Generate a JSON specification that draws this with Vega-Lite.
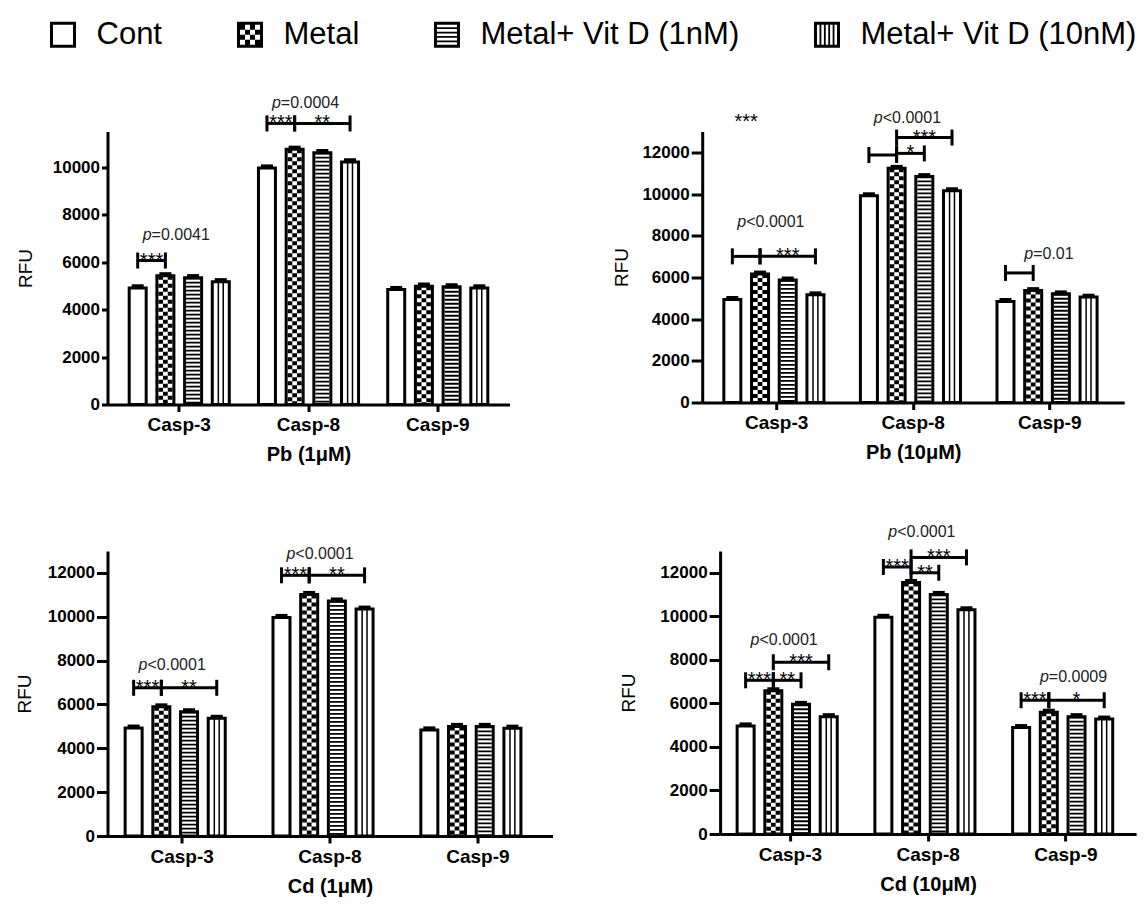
{
"$schema": "https://vega.github.io/schema/vega-lite/v6.json",
"padding": {"left": 14.5, "top": 16, "right": 2, "bottom": 2},
"background": "white",
"datasets": {"d": [
{"pn":"P1","t":"bar","casp":"Casp-3","k":"Cont","y":4910,"hi":4990},
{"pn":"P1","t":"bar","casp":"Casp-3","k":"Metal","y":5420,"hi":5500},
{"pn":"P1","t":"bar","casp":"Casp-3","k":"1nM","y":5340,"hi":5420},
{"pn":"P1","t":"bar","casp":"Casp-3","k":"10nM","y":5170,"hi":5250},
{"pn":"P1","t":"bar","casp":"Casp-8","k":"Cont","y":9960,"hi":10040},
{"pn":"P1","t":"bar","casp":"Casp-8","k":"Metal","y":10750,"hi":10830},
{"pn":"P1","t":"bar","casp":"Casp-8","k":"1nM","y":10610,"hi":10690},
{"pn":"P1","t":"bar","casp":"Casp-8","k":"10nM","y":10220,"hi":10300},
{"pn":"P1","t":"bar","casp":"Casp-9","k":"Cont","y":4840,"hi":4920},
{"pn":"P1","t":"bar","casp":"Casp-9","k":"Metal","y":4985,"hi":5065},
{"pn":"P1","t":"bar","casp":"Casp-9","k":"1nM","y":4955,"hi":5035},
{"pn":"P1","t":"bar","casp":"Casp-9","k":"10nM","y":4910,"hi":4990},
{"pn":"P1","t":"br","casp":"Casp-3","k":"Cont","y":6065,"bid":"1a"},
{"pn":"P1","t":"br","casp":"Casp-3","k":"Metal","y":6065,"bid":"1a"},
{"pn":"P1","t":"br","casp":"Casp-8","k":"Cont","y":11840,"bid":"1b"},
{"pn":"P1","t":"br","casp":"Casp-8","k":"Metal","y":11840,"bid":"1b"},
{"pn":"P1","t":"br","casp":"Casp-8","k":"Metal","y":11840,"bid":"1c"},
{"pn":"P1","t":"br","casp":"Casp-8","k":"10nM","y":11840,"bid":"1c"},
{"pn":"P1","t":"st","casp":"Casp-3","k":"s1","y":6065,"lab":"***"},
{"pn":"P1","t":"st","casp":"Casp-8","k":"s1","y":11840,"lab":"***"},
{"pn":"P1","t":"st","casp":"Casp-8","k":"1nM","y":11840,"lab":"**"},
{"pn":"P1","t":"p","casp":"Casp-3","k":"s1","y":7130,"lab":"=0.0041"},
{"pn":"P1","t":"p","casp":"Casp-8","k":"s1","y":12680,"lab":"=0.0004"},

{"pn":"P2","t":"bar","casp":"Casp-3","k":"Cont","y":4944,"hi":5024},
{"pn":"P2","t":"bar","casp":"Casp-3","k":"Metal","y":6165,"hi":6245},
{"pn":"P2","t":"bar","casp":"Casp-3","k":"1nM","y":5880,"hi":5960},
{"pn":"P2","t":"bar","casp":"Casp-3","k":"10nM","y":5167,"hi":5247},
{"pn":"P2","t":"bar","casp":"Casp-8","k":"Cont","y":9920,"hi":10000},
{"pn":"P2","t":"bar","casp":"Casp-8","k":"Metal","y":11235,"hi":11315},
{"pn":"P2","t":"bar","casp":"Casp-8","k":"1nM","y":10840,"hi":10920},
{"pn":"P2","t":"bar","casp":"Casp-8","k":"10nM","y":10160,"hi":10240},
{"pn":"P2","t":"bar","casp":"Casp-9","k":"Cont","y":4850,"hi":4930},
{"pn":"P2","t":"bar","casp":"Casp-9","k":"Metal","y":5370,"hi":5450},
{"pn":"P2","t":"bar","casp":"Casp-9","k":"1nM","y":5213,"hi":5293},
{"pn":"P2","t":"bar","casp":"Casp-9","k":"10nM","y":5055,"hi":5135},
{"pn":"P2","t":"br","casp":"Casp-3","k":"Cont","y":7010,"bid":"2a"},
{"pn":"P2","t":"br","casp":"Casp-3","k":"Metal","y":7010,"bid":"2a"},
{"pn":"P2","t":"br","casp":"Casp-3","k":"Metal","y":7010,"bid":"2b"},
{"pn":"P2","t":"br","casp":"Casp-3","k":"10nM","y":7010,"bid":"2b"},
{"pn":"P2","t":"br","casp":"Casp-8","k":"Cont","y":11873,"bid":"2c"},
{"pn":"P2","t":"br","casp":"Casp-8","k":"Metal","y":11873,"bid":"2c"},
{"pn":"P2","t":"br","casp":"Casp-8","k":"Metal","y":11950,"bid":"2d"},
{"pn":"P2","t":"br","casp":"Casp-8","k":"1nM","y":11950,"bid":"2d"},
{"pn":"P2","t":"br","casp":"Casp-8","k":"Metal","y":12710,"bid":"2e"},
{"pn":"P2","t":"br","casp":"Casp-8","k":"10nM","y":12710,"bid":"2e"},
{"pn":"P2","t":"br","casp":"Casp-9","k":"Cont","y":6215,"bid":"2f"},
{"pn":"P2","t":"br","casp":"Casp-9","k":"Metal","y":6215,"bid":"2f"},
{"pn":"P2","t":"st","casp":"Casp-3","k":"1nM","y":7010,"lab":"***"},
{"pn":"P2","t":"st","casp":"Casp-8","k":"s2","y":11950,"lab":"*"},
{"pn":"P2","t":"st","casp":"Casp-8","k":"1nM","y":12710,"lab":"***"},
{"pn":"P2","t":"st","casp":"Casp-3","k":"s1","y":13450,"lab":"***"},
{"pn":"P2","t":"p","casp":"Casp-3","k":"s1","y":8670,"lab":"<0.0001"},
{"pn":"P2","t":"p","casp":"Casp-8","k":"s1","y":13660,"lab":"<0.0001"},
{"pn":"P2","t":"p","casp":"Casp-9","k":"Metal","y":7120,"lab":"=0.01"},

{"pn":"P3","t":"bar","casp":"Casp-3","k":"Cont","y":4924,"hi":5004},
{"pn":"P3","t":"bar","casp":"Casp-3","k":"Metal","y":5891,"hi":5971},
{"pn":"P3","t":"bar","casp":"Casp-3","k":"1nM","y":5668,"hi":5748},
{"pn":"P3","t":"bar","casp":"Casp-3","k":"10nM","y":5370,"hi":5450},
{"pn":"P3","t":"bar","casp":"Casp-8","k":"Cont","y":9970,"hi":10050},
{"pn":"P3","t":"bar","casp":"Casp-8","k":"Metal","y":11020,"hi":11100},
{"pn":"P3","t":"bar","casp":"Casp-8","k":"1nM","y":10720,"hi":10800},
{"pn":"P3","t":"bar","casp":"Casp-8","k":"10nM","y":10350,"hi":10430},
{"pn":"P3","t":"bar","casp":"Casp-9","k":"Cont","y":4840,"hi":4920},
{"pn":"P3","t":"bar","casp":"Casp-9","k":"Metal","y":5000,"hi":5080},
{"pn":"P3","t":"bar","casp":"Casp-9","k":"1nM","y":5000,"hi":5080},
{"pn":"P3","t":"bar","casp":"Casp-9","k":"10nM","y":4920,"hi":5000},
{"pn":"P3","t":"br","casp":"Casp-3","k":"Cont","y":6760,"bid":"3a"},
{"pn":"P3","t":"br","casp":"Casp-3","k":"Metal","y":6760,"bid":"3a"},
{"pn":"P3","t":"br","casp":"Casp-3","k":"Metal","y":6760,"bid":"3b"},
{"pn":"P3","t":"br","casp":"Casp-3","k":"10nM","y":6760,"bid":"3b"},
{"pn":"P3","t":"br","casp":"Casp-8","k":"Cont","y":11890,"bid":"3c"},
{"pn":"P3","t":"br","casp":"Casp-8","k":"Metal","y":11890,"bid":"3c"},
{"pn":"P3","t":"br","casp":"Casp-8","k":"Metal","y":11890,"bid":"3d"},
{"pn":"P3","t":"br","casp":"Casp-8","k":"10nM","y":11890,"bid":"3d"},
{"pn":"P3","t":"st","casp":"Casp-3","k":"s1","y":6760,"lab":"***"},
{"pn":"P3","t":"st","casp":"Casp-3","k":"1nM","y":6760,"lab":"**"},
{"pn":"P3","t":"st","casp":"Casp-8","k":"s1","y":11890,"lab":"***"},
{"pn":"P3","t":"st","casp":"Casp-8","k":"1nM","y":11890,"lab":"**"},
{"pn":"P3","t":"p","casp":"Casp-3","k":"s1","y":7806,"lab":"<0.0001"},
{"pn":"P3","t":"p","casp":"Casp-8","k":"s1","y":12850,"lab":"<0.0001"},

{"pn":"P4","t":"bar","casp":"Casp-3","k":"Cont","y":4966,"hi":5046},
{"pn":"P4","t":"bar","casp":"Casp-3","k":"Metal","y":6580,"hi":6660},
{"pn":"P4","t":"bar","casp":"Casp-3","k":"1nM","y":5955,"hi":6035},
{"pn":"P4","t":"bar","casp":"Casp-3","k":"10nM","y":5390,"hi":5470},
{"pn":"P4","t":"bar","casp":"Casp-8","k":"Cont","y":9955,"hi":10035},
{"pn":"P4","t":"bar","casp":"Casp-8","k":"Metal","y":11555,"hi":11635},
{"pn":"P4","t":"bar","casp":"Casp-8","k":"1nM","y":11007,"hi":11087},
{"pn":"P4","t":"bar","casp":"Casp-8","k":"10nM","y":10300,"hi":10380},
{"pn":"P4","t":"bar","casp":"Casp-9","k":"Cont","y":4890,"hi":4970},
{"pn":"P4","t":"bar","casp":"Casp-9","k":"Metal","y":5595,"hi":5675},
{"pn":"P4","t":"bar","casp":"Casp-9","k":"1nM","y":5390,"hi":5470},
{"pn":"P4","t":"bar","casp":"Casp-9","k":"10nM","y":5280,"hi":5360},
{"pn":"P4","t":"br","casp":"Casp-3","k":"Cont","y":7060,"bid":"4a"},
{"pn":"P4","t":"br","casp":"Casp-3","k":"Metal","y":7060,"bid":"4a"},
{"pn":"P4","t":"br","casp":"Casp-3","k":"Metal","y":7060,"bid":"4b"},
{"pn":"P4","t":"br","casp":"Casp-3","k":"1nM","y":7060,"bid":"4b"},
{"pn":"P4","t":"br","casp":"Casp-3","k":"Metal","y":7890,"bid":"4c"},
{"pn":"P4","t":"br","casp":"Casp-3","k":"10nM","y":7890,"bid":"4c"},
{"pn":"P4","t":"br","casp":"Casp-8","k":"Cont","y":12265,"bid":"4d"},
{"pn":"P4","t":"br","casp":"Casp-8","k":"Metal","y":12265,"bid":"4d"},
{"pn":"P4","t":"br","casp":"Casp-8","k":"Metal","y":12000,"bid":"4e"},
{"pn":"P4","t":"br","casp":"Casp-8","k":"1nM","y":12000,"bid":"4e"},
{"pn":"P4","t":"br","casp":"Casp-8","k":"Metal","y":12706,"bid":"4f"},
{"pn":"P4","t":"br","casp":"Casp-8","k":"10nM","y":12706,"bid":"4f"},
{"pn":"P4","t":"br","casp":"Casp-9","k":"Cont","y":6145,"bid":"4g"},
{"pn":"P4","t":"br","casp":"Casp-9","k":"Metal","y":6145,"bid":"4g"},
{"pn":"P4","t":"br","casp":"Casp-9","k":"Metal","y":6145,"bid":"4h"},
{"pn":"P4","t":"br","casp":"Casp-9","k":"10nM","y":6145,"bid":"4h"},
{"pn":"P4","t":"st","casp":"Casp-3","k":"s1","y":7060,"lab":"***"},
{"pn":"P4","t":"st","casp":"Casp-3","k":"s2","y":7060,"lab":"**"},
{"pn":"P4","t":"st","casp":"Casp-3","k":"1nM","y":7890,"lab":"***"},
{"pn":"P4","t":"st","casp":"Casp-8","k":"s1","y":12265,"lab":"***"},
{"pn":"P4","t":"st","casp":"Casp-8","k":"s2","y":12000,"lab":"**"},
{"pn":"P4","t":"st","casp":"Casp-8","k":"1nM","y":12706,"lab":"***"},
{"pn":"P4","t":"st","casp":"Casp-9","k":"s1","y":6145,"lab":"***"},
{"pn":"P4","t":"st","casp":"Casp-9","k":"1nM","y":6145,"lab":"*"},
{"pn":"P4","t":"p","casp":"Casp-3","k":"s1","y":8910,"lab":"<0.0001"},
{"pn":"P4","t":"p","casp":"Casp-8","k":"s1","y":13880,"lab":"<0.0001"},
{"pn":"P4","t":"p","casp":"Casp-9","k":"Metal","y":7200,"lab":"=0.0009"}
]},
"resolve": {"scale": {"shape": "independent"}, "legend": {"shape": "independent"}},
"columns": 1,
"align": "none",
"spacing": 44.5,
"concat": [
{
 "width": 1, "height": 1,
 "data": {"values": [{"g":"Cont"},{"g":"Metal"},{"g":"Metal+ Vit D (1nM)"},{"g":"Metal+ Vit D (10nM)"}]},
 "mark": {"type":"point","filled":true,"color":"black","opacity":0},
 "encoding": {"shape": {"field":"g","type":"nominal",
   "scale":{"domain":["Cont","Metal","Metal+ Vit D (1nM)","Metal+ Vit D (10nM)"],
   "range":[
   "M-1,-1H1V1H-1Z M-0.77,-0.77V0.77H0.77V-0.77Z",
   "M-1,-1H1V1H-1Z M-0.77,-0.77V0.77H0.77V-0.77Z M-0.77,-0.77h0.385v0.385h-0.385Z M0,-0.77h0.385v0.385h-0.385Z M-0.385,-0.385h0.385v0.385h-0.385Z M0.385,-0.385h0.385v0.385h-0.385Z M-0.77,0h0.385v0.385h-0.385Z M0,0h0.385v0.385h-0.385Z M-0.385,0.385h0.385v0.385h-0.385Z M0.385,0.385h0.385v0.385h-0.385Z",
   "M-1,-1H1V1H-1Z M-0.77,-0.77V0.77H0.77V-0.77Z M-0.77,-0.574h1.54v0.14h-1.54Z M-0.77,-0.238h1.54v0.14h-1.54Z M-0.77,0.098h1.54v0.14h-1.54Z M-0.77,0.434h1.54v0.14h-1.54Z",
   "M-1,-1H1V1H-1Z M-0.77,-0.77V0.77H0.77V-0.77Z M-0.574,-0.77h0.14v1.54h-0.14Z M-0.238,-0.77h0.14v1.54h-0.14Z M0.098,-0.77h0.14v1.54h-0.14Z M0.434,-0.77h0.14v1.54h-0.14Z"
   ]},
   "legend":{"title":null,"orient":"right","offset":-61,"direction":"horizontal","columns":4,"columnPadding":72,"symbolSize":676,"symbolOpacity":1,"symbolStrokeWidth":0,"symbolFillColor":"black","labelFontSize":31,"labelFont":"Liberation Sans","labelColor":"black","labelOffset":18,"labelLimit":600,"padding":0,
     "encode":{"symbols":{"update":{"opacity":{"value":1},"fill":{"value":"black"},"strokeWidth":{"value":0}}}}}
 }}
},
{
 "columns": 1,
 "align": "none",
 "spacing": 58.5,
 "concat": [
 {"align": "none", "spacing": 102.7, "concat": [
  {
   "width": 402, "height": 273,
   "data": {"name": "d"},
   "transform": [{"filter": "datum.pn=='P1'"}],
   "encoding": {
    "x": {"field":"casp","type":"nominal","title":"Pb (1μM)","scale":{"paddingInner":0.25,"paddingOuter":0.18}},
    "xOffset": {"field":"k","type":"nominal","scale":{"domain":["Cont","s1","Metal","s2","1nM","s3","10nM"],"paddingInner":0,"paddingOuter":0}},
    "y": {"field":"y","type":"quantitative","title":"RFU","scale":{"domain":[0,11500],"nice":false},"axis":{"values":[0,2000,4000,6000,8000,10000],"format":"d","tickSize":6,"titlePadding":17}}
   },
   "layer": [
    {"transform":[{"filter":"datum.t=='bar'&&datum.k=='1nM'"}],"mark":{"type":"rule","strokeWidth":14,"strokeDash":[1.8,2.2],"color":"black","opacity":1},"encoding":{"y2":{"datum":0}}},
    {"transform":[{"filter":"datum.t=='bar'&&datum.k=='10nM'"}],"mark":{"type":"rule","strokeWidth":6.4,"color":"black","opacity":1},"encoding":{"y2":{"datum":0}}},
    {"transform":[{"filter":"datum.t=='bar'&&datum.k=='10nM'"}],"mark":{"type":"rule","strokeWidth":3.4,"color":"white","opacity":1},"encoding":{"y2":{"datum":0}}},
    {"transform":[{"filter":"datum.t=='bar'&&datum.k=='Metal'"}],"mark":{"type":"rule","strokeWidth":14,"strokeDash":[4,4],"color":"black","opacity":1},"encoding":{"y2":{"datum":0}}},
    {"transform":[{"filter":"datum.t=='bar'&&datum.k=='Metal'"}],"mark":{"type":"rule","strokeWidth":4.7,"color":"white","opacity":1},"encoding":{"y2":{"datum":0}}},
    {"transform":[{"filter":"datum.t=='bar'&&datum.k=='Metal'"}],"mark":{"type":"rule","strokeWidth":4.7,"strokeDash":[4,4],"strokeDashOffset":4,"color":"black","opacity":1},"encoding":{"y2":{"datum":0}}},
    {"transform":[{"filter":"datum.t=='bar'"}],"mark":{"type":"bar","width":17,"filled":false,"stroke":"black","strokeWidth":3,"opacity":1}},
    {"transform":[{"filter":"datum.t=='bar'"}],"mark":{"type":"rule","strokeWidth":2,"color":"black","opacity":1},"encoding":{"y2":{"field":"hi","title":"RFU"}}},
    {"transform":[{"filter":"datum.t=='bar'"}],"mark":{"type":"tick","thickness":3.5,"size":12,"color":"black","opacity":1},"encoding":{"y":{"field":"hi","type":"quantitative","title":"RFU"}}},
    {"transform":[{"filter":"datum.t=='br'"}],"mark":{"type":"line","strokeWidth":3,"color":"black","opacity":1},"encoding":{"detail":{"field":"bid"}}},
    {"transform":[{"filter":"datum.t=='br'"}],"mark":{"type":"point","shape":"M0,-1V1","size":256,"filled":false,"stroke":"black","strokeWidth":3,"opacity":1}},
    {"transform":[{"filter":"datum.t=='st'"}],"mark":{"type":"text","fontSize":20,"baseline":"alphabetic","dy":6,"color":"black"},"encoding":{"text":{"field":"lab"}}},
    {"transform":[{"filter":"datum.t=='p'"}],"mark":{"type":"text","text":"p","fontStyle":"italic","fontSize":16,"align":"right","baseline":"middle","color":"#222"}},
    {"transform":[{"filter":"datum.t=='p'"}],"mark":{"type":"text","fontSize":16,"align":"left","baseline":"middle","color":"#222"},"encoding":{"text":{"field":"lab"}}}
   ]
  },
  {
   "width": 422, "height": 271,
   "data": {"name": "d"},
   "transform": [{"filter": "datum.pn=='P2'"}],
   "encoding": {
    "x": {"field":"casp","type":"nominal","title":"Pb (10μM)","scale":{"paddingInner":0.25,"paddingOuter":0.17}},
    "xOffset": {"field":"k","type":"nominal","scale":{"domain":["Cont","s1","Metal","s2","1nM","s3","10nM"],"paddingInner":0,"paddingOuter":0}},
    "y": {"field":"y","type":"quantitative","title":"RFU","scale":{"domain":[0,13000],"nice":false},"axis":{"values":[0,2000,4000,6000,8000,10000,12000],"format":"d","tickSize":11,"titlePadding":10}}
   },
   "layer": [
    {"transform":[{"filter":"datum.t=='bar'&&datum.k=='1nM'"}],"mark":{"type":"rule","strokeWidth":14,"strokeDash":[1.8,2.2],"color":"black","opacity":1},"encoding":{"y2":{"datum":0}}},
    {"transform":[{"filter":"datum.t=='bar'&&datum.k=='10nM'"}],"mark":{"type":"rule","strokeWidth":6.4,"color":"black","opacity":1},"encoding":{"y2":{"datum":0}}},
    {"transform":[{"filter":"datum.t=='bar'&&datum.k=='10nM'"}],"mark":{"type":"rule","strokeWidth":3.4,"color":"white","opacity":1},"encoding":{"y2":{"datum":0}}},
    {"transform":[{"filter":"datum.t=='bar'&&datum.k=='Metal'"}],"mark":{"type":"rule","strokeWidth":14,"strokeDash":[4,4],"color":"black","opacity":1},"encoding":{"y2":{"datum":0}}},
    {"transform":[{"filter":"datum.t=='bar'&&datum.k=='Metal'"}],"mark":{"type":"rule","strokeWidth":4.7,"color":"white","opacity":1},"encoding":{"y2":{"datum":0}}},
    {"transform":[{"filter":"datum.t=='bar'&&datum.k=='Metal'"}],"mark":{"type":"rule","strokeWidth":4.7,"strokeDash":[4,4],"strokeDashOffset":4,"color":"black","opacity":1},"encoding":{"y2":{"datum":0}}},
    {"transform":[{"filter":"datum.t=='bar'"}],"mark":{"type":"bar","width":17,"filled":false,"stroke":"black","strokeWidth":3,"opacity":1}},
    {"transform":[{"filter":"datum.t=='bar'"}],"mark":{"type":"rule","strokeWidth":2,"color":"black","opacity":1},"encoding":{"y2":{"field":"hi","title":"RFU"}}},
    {"transform":[{"filter":"datum.t=='bar'"}],"mark":{"type":"tick","thickness":3.5,"size":12,"color":"black","opacity":1},"encoding":{"y":{"field":"hi","type":"quantitative","title":"RFU"}}},
    {"transform":[{"filter":"datum.t=='br'"}],"mark":{"type":"line","strokeWidth":3,"color":"black","opacity":1},"encoding":{"detail":{"field":"bid"}}},
    {"transform":[{"filter":"datum.t=='br'"}],"mark":{"type":"point","shape":"M0,-1V1","size":256,"filled":false,"stroke":"black","strokeWidth":3,"opacity":1}},
    {"transform":[{"filter":"datum.t=='st'"}],"mark":{"type":"text","fontSize":20,"baseline":"alphabetic","dy":6,"color":"black"},"encoding":{"text":{"field":"lab"}}},
    {"transform":[{"filter":"datum.t=='p'"}],"mark":{"type":"text","text":"p","fontStyle":"italic","fontSize":16,"align":"right","baseline":"middle","color":"#222"}},
    {"transform":[{"filter":"datum.t=='p'"}],"mark":{"type":"text","fontSize":16,"align":"left","baseline":"middle","color":"#222"},"encoding":{"text":{"field":"lab"}}}
   ]
  }
 ]},
 {"align": "none", "spacing": 66.6, "concat": [
  {
   "width": 445, "height": 285,
   "data": {"name": "d"},
   "transform": [{"filter": "datum.pn=='P3'"}],
   "encoding": {
    "x": {"field":"casp","type":"nominal","title":"Cd (1μM)","scale":{"paddingInner":0.25,"paddingOuter":0.13}},
    "xOffset": {"field":"k","type":"nominal","scale":{"domain":["Cont","s1","Metal","s2","1nM","s3","10nM"],"paddingInner":0,"paddingOuter":0}},
    "y": {"field":"y","type":"quantitative","title":"RFU","scale":{"domain":[0,13000],"nice":false},"axis":{"values":[0,2000,4000,6000,8000,10000,12000],"format":"d","tickSize":11,"titlePadding":13}}
   },
   "layer": [
    {"transform":[{"filter":"datum.t=='bar'&&datum.k=='1nM'"}],"mark":{"type":"rule","strokeWidth":14,"strokeDash":[1.8,2.2],"color":"black","opacity":1},"encoding":{"y2":{"datum":0}}},
    {"transform":[{"filter":"datum.t=='bar'&&datum.k=='10nM'"}],"mark":{"type":"rule","strokeWidth":6.4,"color":"black","opacity":1},"encoding":{"y2":{"datum":0}}},
    {"transform":[{"filter":"datum.t=='bar'&&datum.k=='10nM'"}],"mark":{"type":"rule","strokeWidth":3.4,"color":"white","opacity":1},"encoding":{"y2":{"datum":0}}},
    {"transform":[{"filter":"datum.t=='bar'&&datum.k=='Metal'"}],"mark":{"type":"rule","strokeWidth":14,"strokeDash":[4,4],"color":"black","opacity":1},"encoding":{"y2":{"datum":0}}},
    {"transform":[{"filter":"datum.t=='bar'&&datum.k=='Metal'"}],"mark":{"type":"rule","strokeWidth":4.7,"color":"white","opacity":1},"encoding":{"y2":{"datum":0}}},
    {"transform":[{"filter":"datum.t=='bar'&&datum.k=='Metal'"}],"mark":{"type":"rule","strokeWidth":4.7,"strokeDash":[4,4],"strokeDashOffset":4,"color":"black","opacity":1},"encoding":{"y2":{"datum":0}}},
    {"transform":[{"filter":"datum.t=='bar'"}],"mark":{"type":"bar","width":17,"filled":false,"stroke":"black","strokeWidth":3,"opacity":1}},
    {"transform":[{"filter":"datum.t=='bar'"}],"mark":{"type":"rule","strokeWidth":2,"color":"black","opacity":1},"encoding":{"y2":{"field":"hi","title":"RFU"}}},
    {"transform":[{"filter":"datum.t=='bar'"}],"mark":{"type":"tick","thickness":3.5,"size":12,"color":"black","opacity":1},"encoding":{"y":{"field":"hi","type":"quantitative","title":"RFU"}}},
    {"transform":[{"filter":"datum.t=='br'"}],"mark":{"type":"line","strokeWidth":3,"color":"black","opacity":1},"encoding":{"detail":{"field":"bid"}}},
    {"transform":[{"filter":"datum.t=='br'"}],"mark":{"type":"point","shape":"M0,-1V1","size":256,"filled":false,"stroke":"black","strokeWidth":3,"opacity":1}},
    {"transform":[{"filter":"datum.t=='st'"}],"mark":{"type":"text","fontSize":20,"baseline":"alphabetic","dy":6,"color":"black"},"encoding":{"text":{"field":"lab"}}},
    {"transform":[{"filter":"datum.t=='p'"}],"mark":{"type":"text","text":"p","fontStyle":"italic","fontSize":16,"align":"right","baseline":"middle","color":"#222"}},
    {"transform":[{"filter":"datum.t=='p'"}],"mark":{"type":"text","fontSize":16,"align":"left","baseline":"middle","color":"#222"},"encoding":{"text":{"field":"lab"}}}
   ]
  },
  {
   "width": 416, "height": 283,
   "data": {"name": "d"},
   "transform": [{"filter": "datum.pn=='P4'"}],
   "encoding": {
    "x": {"field":"casp","type":"nominal","title":"Cd (10μM)","scale":{"paddingInner":0.25,"paddingOuter":0.135}},
    "xOffset": {"field":"k","type":"nominal","scale":{"domain":["Cont","s1","Metal","s2","1nM","s3","10nM"],"paddingInner":0,"paddingOuter":0}},
    "y": {"field":"y","type":"quantitative","title":"RFU","scale":{"domain":[0,13000],"nice":false},"axis":{"values":[0,2000,4000,6000,8000,10000,12000],"format":"d","tickSize":11,"titlePadding":21}}
   },
   "layer": [
    {"transform":[{"filter":"datum.t=='bar'&&datum.k=='1nM'"}],"mark":{"type":"rule","strokeWidth":14,"strokeDash":[1.8,2.2],"color":"black","opacity":1},"encoding":{"y2":{"datum":0}}},
    {"transform":[{"filter":"datum.t=='bar'&&datum.k=='10nM'"}],"mark":{"type":"rule","strokeWidth":6.4,"color":"black","opacity":1},"encoding":{"y2":{"datum":0}}},
    {"transform":[{"filter":"datum.t=='bar'&&datum.k=='10nM'"}],"mark":{"type":"rule","strokeWidth":3.4,"color":"white","opacity":1},"encoding":{"y2":{"datum":0}}},
    {"transform":[{"filter":"datum.t=='bar'&&datum.k=='Metal'"}],"mark":{"type":"rule","strokeWidth":14,"strokeDash":[4,4],"color":"black","opacity":1},"encoding":{"y2":{"datum":0}}},
    {"transform":[{"filter":"datum.t=='bar'&&datum.k=='Metal'"}],"mark":{"type":"rule","strokeWidth":4.7,"color":"white","opacity":1},"encoding":{"y2":{"datum":0}}},
    {"transform":[{"filter":"datum.t=='bar'&&datum.k=='Metal'"}],"mark":{"type":"rule","strokeWidth":4.7,"strokeDash":[4,4],"strokeDashOffset":4,"color":"black","opacity":1},"encoding":{"y2":{"datum":0}}},
    {"transform":[{"filter":"datum.t=='bar'"}],"mark":{"type":"bar","width":17,"filled":false,"stroke":"black","strokeWidth":3,"opacity":1}},
    {"transform":[{"filter":"datum.t=='bar'"}],"mark":{"type":"rule","strokeWidth":2,"color":"black","opacity":1},"encoding":{"y2":{"field":"hi","title":"RFU"}}},
    {"transform":[{"filter":"datum.t=='bar'"}],"mark":{"type":"tick","thickness":3.5,"size":12,"color":"black","opacity":1},"encoding":{"y":{"field":"hi","type":"quantitative","title":"RFU"}}},
    {"transform":[{"filter":"datum.t=='br'"}],"mark":{"type":"line","strokeWidth":3,"color":"black","opacity":1},"encoding":{"detail":{"field":"bid"}}},
    {"transform":[{"filter":"datum.t=='br'"}],"mark":{"type":"point","shape":"M0,-1V1","size":256,"filled":false,"stroke":"black","strokeWidth":3,"opacity":1}},
    {"transform":[{"filter":"datum.t=='st'"}],"mark":{"type":"text","fontSize":20,"baseline":"alphabetic","dy":6,"color":"black"},"encoding":{"text":{"field":"lab"}}},
    {"transform":[{"filter":"datum.t=='p'"}],"mark":{"type":"text","text":"p","fontStyle":"italic","fontSize":16,"align":"right","baseline":"middle","color":"#222"}},
    {"transform":[{"filter":"datum.t=='p'"}],"mark":{"type":"text","fontSize":16,"align":"left","baseline":"middle","color":"#222"},"encoding":{"text":{"field":"lab"}}}
   ]
  }
 ]}
 ]
}
],
"config": {
 "font": "Liberation Sans",
 "view": {"stroke": null},
 "axis": {"domainColor":"black","domainWidth":3,"tickColor":"black","tickWidth":3,"labelColor":"black","titleColor":"black","labelFont":"Liberation Sans","titleFont":"Liberation Sans","grid":false},
 "axisX": {"labelFontSize":19,"labelFontWeight":"bold","labelAngle":0,"labelPadding":4,"tickSize":7,"titleFontSize":20,"titleFontWeight":"bold","titlePadding":10},
 "axisY": {"labelFontSize":17,"labelFontWeight":"bold","labelPadding":2,"titleFontSize":19,"titleFontWeight":"normal"},
 "text": {"font": "Liberation Sans"}
}
}
